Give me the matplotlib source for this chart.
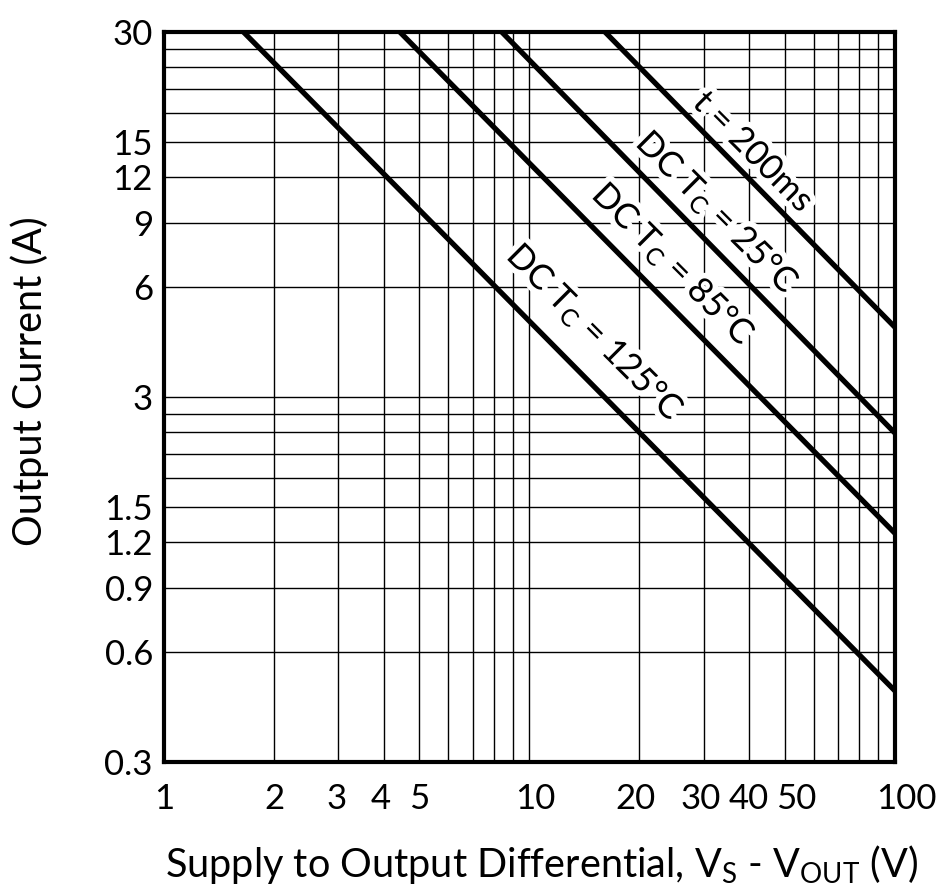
import matplotlib
matplotlib.use("Agg")
from matplotlib import pyplot as plt
from matplotlib import patheffects as pe
from matplotlib.ticker import NullFormatter

plt.rcParams['font.family'] = ['Lato', 'DejaVu Sans']
plt.rcParams['mathtext.default'] = 'regular'

# safe operating area curves, endpoints
curve_names = ['DC 125', 'DC 85', 'DC 25', '200ms']
v_start = [1.65, 4.42, 8.4, 16.1]
i_start = [30, 30, 30, 30]
v_end = [100, 100, 100, 100]
i_end = [0.47, 1.27, 2.39, 4.66]

curve_labels = [r'DC T$_C$ = 125°C', r'DC T$_C$ = 85°C', r'DC T$_C$ = 25°C', 't = 200ms']
label_v = [15.1, 24.7, 32.6, 40.9]
label_i = [4.49, 6.9, 9.57, 14.07]

x_ticks = [1, 2, 3, 4, 5, 10, 20, 30, 40, 50, 100]
y_ticks = [0.3, 0.6, 0.9, 1.2, 1.5, 3, 6, 9, 12, 15, 30]
x_grid = [2, 3, 4, 5, 6, 7, 8, 9, 10, 20, 30, 40, 50, 60, 70, 80, 90]
y_grid = [0.3, 0.6, 0.9, 1.2, 1.5, 1.8, 2.1, 2.4, 2.7, 3,
          6, 9, 12, 15, 18, 21, 24, 27, 30]

# the x labels in the original sit a bit off their ticks
x_nudge = [0, 0, -2, -3, 0, 6, -4, -3, -1, 11, 11]

fig = plt.figure(figsize=(9.41, 8.94), dpi=100)
ax = fig.add_axes([0.1743, 0.1477, 0.7767, 0.8165])
ax.set_xscale('log')
ax.set_yscale('log')
ax.set_xlim(1, 100)
ax.set_ylim(0.3, 30)

for g in x_grid:
    ax.axvline(g, color='black', lw=1.0, zorder=1)
for g in y_grid:
    ax.axhline(g, color='black', lw=1.0, zorder=1)

for xs, ys, xe, ye in zip(v_start, i_start, v_end, i_end):
    ax.plot([xs, xe], [ys, ye], color='black', lw=3.8, solid_capstyle='butt', zorder=3)

for txt, lx, ly in zip(curve_labels, label_v, label_i):
    ax.text(lx, ly, txt, rotation=-45, rotation_mode='anchor', ha='center', va='center',
            fontsize=25, zorder=2,
            path_effects=[pe.withStroke(linewidth=8, foreground='white')])

ax.xaxis.set_minor_formatter(NullFormatter())
ax.set_xticks(x_ticks, ['' for t in x_ticks])
for t, dx in zip(x_ticks, x_nudge):
    ax.annotate(str(t), xy=(t, 0), xycoords=('data', 'axes fraction'),
                xytext=(dx, -21), textcoords='offset pixels',
                ha='center', va='top', fontsize=25, annotation_clip=False)
ax.yaxis.set_minor_formatter(NullFormatter())
ax.set_yticks(y_ticks, [('%g' % t) for t in y_ticks])
ax.tick_params(which='both', length=0, labelsize=25)
ax.tick_params(axis='y', pad=8)

for s in ax.spines.values():
    s.set_linewidth(3.0)
    s.set_zorder(5)

fig.text(542 / 941, 1 - 877 / 894, r'Supply to Output Differential, V$_S$ - V$_{OUT}$ (V)',
         fontsize=28.5, ha='center', va='baseline')
fig.text(30 / 941, 1 - 381 / 894, 'Output Current (A)', fontsize=28.5,
         rotation=90, ha='center', va='center')

fig.savefig('out.png', dpi=100)
